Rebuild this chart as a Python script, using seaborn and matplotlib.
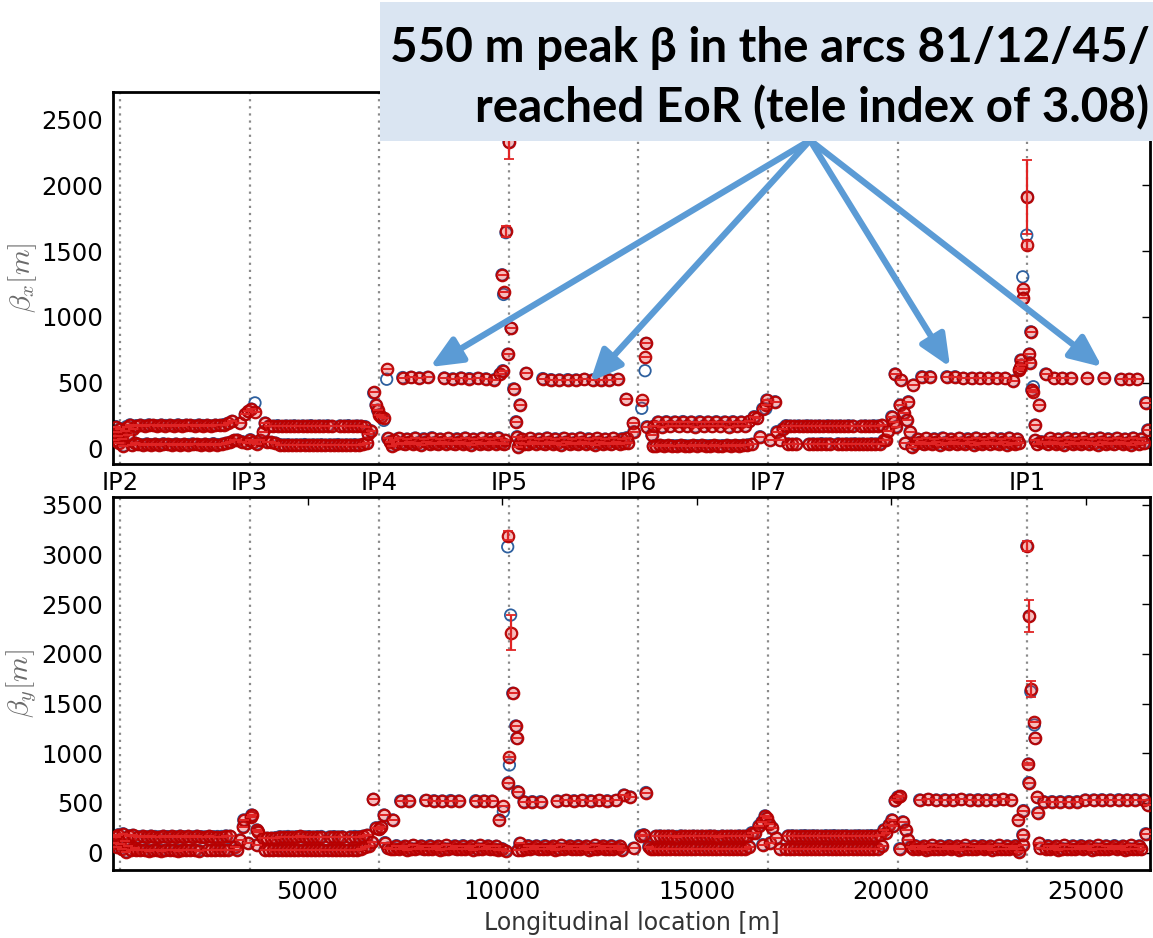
import numpy as np
import pandas as pd
import seaborn as sns
import matplotlib.pyplot as plt
from matplotlib.patches import Rectangle

nan = np.nan

# Interaction points along the ring [m]
ip_names = ["IP2", "IP3", "IP4", "IP5", "IP6", "IP7", "IP8", "IP1"]
ip_s = [180, 3512, 6844, 10176, 13508, 16840, 20172, 23504]

# ---------------- Arc BPMs (same monitors for both planes) ----------------
arc23_s = [600, 653, 707, 760, 814, 867, 921, 974, 1028, 1081, 1135, 1188, 1242, 1295, 1349, 1402,
           1456, 1509, 1563, 1616, 1670, 1723, 1777, 1830, 1884, 1937, 1991, 2044, 2098, 2151, 2205,
           2258, 2312, 2365, 2419, 2472, 2526, 2579, 2633, 2686, 2740, 2793, 2847, 2900, 2954, 3007]
arc23_bx = [172, 30, 176, 26, 170, 33, 178, 28, 174, 31, 171, 25, 177, 34, 173, 29, 175, 27, 170, 32,
            178, 26, 172, 30, 176, 28, 174, 33, 171, 29, 177, 26, 173, 31, 175, 27, 170, 35, 176, 28,
            174, 30, 180, 38, 190, 45]
arc23_by = [25, 160, 22, 165, 28, 158, 20, 166, 24, 162, 27, 159, 21, 165, 26, 161, 23, 164, 25, 158,
            20, 166, 27, 160, 22, 163, 24, 159, 26, 165, 21, 161, nan, 158, 23, 164, 25, 160, 22, 162,
            27, 162, 24, 168, 30, 165]

arc34_s = [3910, 3963, 4017, 4070, 4124, 4177, 4231, 4284, 4338, 4391, 4445, 4498, 4552, 4605, 4659,
           4712, 4766, 4819, 4873, 4926, 4980, 5033, 5087, 5140, 5194, 5247, 5301, 5354, 5408, 5461,
           5515, 5568, 5622, 5675, 5729, 5782, 5836, 5889, 5943, 5996, 6050, 6103, 6157, 6210, 6264,
           6317, 6371, 6424, 6478, 6531]
arc34_bx = [192, 50, 170, 45, 168, 40, 172, 28, 166, 25, 170, 27, 168, 24, 171, 26, 167, 25, 170, 28,
            168, 24, 172, 26, 166, 25, 170, 27, 168, 24, 171, 26, 167, 25, nan, 28, 170, 24, 168, 26,
            172, 25, 166, 27, 170, 24, 168, 30, 165, 40]
arc34_by = [27, 145, 25, 145, 22, 150, 24, 160, 26, 158, 23, 162, 25, 157, 22, 160, 24, 163, 26, 158,
            23, 161, 25, 157, 22, 160, 24, 162, 26, nan, 23, 158, 25, 161, 22, 157, 24, 160, 26, nan,
            23, 158, 25, 162, 22, 160, 35, 165, 55, 175]

arc45_s = [7233, 7286, 7340, 7393, 7447, 7500, 7554, 7607, 7661, 7714, 7768, 7821, 7875, 7928, 7982,
           8035, 8089, 8142, 8196, 8249, 8303, 8356, 8410, 8463, 8517, 8570, 8624, 8677, 8731, 8784,
           8838, 8891, 8945, 8998, 9052, 9105, 9159, 9212, 9266, 9319, 9373, 9426, 9480, 9533, 9587,
           9640, 9694, 9747, 9801, 9854, 9908, 9961]
arc45_bx = [60, 35, 75, 40, 538, 30, 70, 45, 540, 35, 78, 40, 535, 28, 72, 48, 540, 33, 80, 42,
            nan, 30, 70, 45, 535, 35, 75, 40, 528, 30, 72, 48, 535, 35, 78, 42, 530, 28, 70, 45,
            532, 33, 76, 40, 528, 30, 72, 46, 522, 35, 80, 42]
arc45_by = [40, 70, 35, 520, 45, 65, 30, 522, 40, 72, 35, nan, 42, 68, 33, 525, 38, 70, 36, 522,
            44, 66, 30, 520, 40, 72, 35, 524, 42, 68, 32, 520, 38, 70, 36, nan, 44, 66, 30, 522,
            40, 72, 35, 520, 42, 68, 33, 518, 38, 65, 30, nan]

arc56_s = [10404, 10457, 10511, 10564, 10618, 10671, 10725, 10778, 10832, 10885, 10939, 10992, 11046,
           11099, 11153, 11206, 11260, 11313, 11367, 11420, 11474, 11527, 11581, 11634, 11688, 11741,
           11795, 11848, 11902, 11955, 12009, 12062, 12116, 12169, 12223, 12276, 12330, 12383, 12437,
           12490, 12544, 12597, 12651, 12704, 12758, 12811, 12865, 12918, 12972, 13025, 13079, 13132]
arc56_bx = [nan, 40, 70, 35, 570, 30, 75, 45, nan, 35, 70, 40, 530, 30, 78, 45, 522, 35, 72, 40,
            520, 28, 76, 46, 522, 33, 70, 42, 520, 30, 78, 45, 524, 35, 72, 40, 520, 28, 75, 46,
            522, 33, 70, 42, 520, 30, 76, 45, 524, 35, 72, 40]
arc56_by = [24, 94, 30, 513, 40, 70, 35, 513, 42, 68, 33, 513, 38, 70, 36, nan, 44, 66, 30, 520,
            40, 72, 35, 525, 42, 68, 33, 522, 38, 70, 36, 525, 44, 66, 30, 522, 40, 72, 35, 525,
            42, 68, 33, 522, 38, 70, 36, 525, 44, 66, 30, 580]

arc67_s = [13900, 13953, 14007, 14060, 14114, 14167, 14221, 14274, 14328, 14381, 14435, 14488, 14542,
           14595, 14649, 14702, 14756, 14809, 14863, 14916, 14970, 15023, 15077, 15130, 15184, 15237,
           15291, 15344, 15398, 15451, 15505, 15558, 15612, 15665, 15719, 15772, 15826, 15879, 15933,
           15986, 16040, 16093, 16147, 16200, 16254, 16307, 16361, 16414]
arc67_bx = [168, 20, 200, 22, 165, 18, 202, 21, 168, 20, 200, 19, 166, 22, 203, 20, 168, 18, 200, 21,
            165, 20, 202, 22, 168, 19, 200, 20, 166, 21, 202, 18, 168, 20, 200, 22, 165, 19, 202, 21,
            168, 20, 200, 22, 170, 25, 205, 30]
arc67_by = [35, 165, 32, 168, 38, 163, 34, 167, 36, 165, 33, 162, 37, 168, 35, 165, 32, 163, 38, 167,
            34, 164, 36, 166, 33, 163, 37, 168, 35, 165, 32, 162, 38, 167, 34, 164, 36, 166, 33, 163,
            37, 168, 35, 165, 40, 170, 60, 200]

arc78_s = [17300, 17353, 17407, 17460, 17514, 17567, 17621, 17674, 17728, 17781, 17835, 17888, 17942,
           17995, 18049, 18102, 18156, 18209, 18263, 18316, 18370, 18423, 18477, 18530, 18584, 18637,
           18691, 18744, 18798, 18851, 18905, 18958, 19012, 19065, 19119, 19172, 19226, 19279, 19333,
           19386, 19440, 19493, 19547, 19600, 19654, 19707, 19761, 19814]
arc78_bx = [172, 33, 169, 30, 168, 32, 170, nan, 167, nan, 171, 31, 169, 33, 168, 30, 170, 35, 167, 32,
            171, 33, 169, nan, 168, 34, 170, 30, 167, 33, 171, 32, 169, 34, nan, 31, 168, 33, 170, 30,
            167, 34, 171, 32, 169, 35, 175, 60]
arc78_by = [35, 168, 33, 170, 37, 166, 34, 169, 36, 171, 32, 167, 35, 170, 38, 168, 33, 166, 36, 170,
            34, 168, 37, 171, 32, 167, 35, 169, 33, 170, 36, 166, 34, 168, 37, 170, 33, 167, 35, 169,
            32, 171, 36, 168, 40, 175, 70, 230]

arc81_s = [20574, 20627, 20681, 20734, 20788, 20841, 20895, 20948, 21002, 21055, 21109, 21162, 21216,
           21269, 21323, 21376, 21430, 21483, 21537, 21590, 21644, 21697, 21751, 21804, 21858, 21911,
           21965, 22018, 22072, 22125, 22179, 22232, 22286, 22339, 22393, 22446, 22500, 22553, 22607,
           22660, 22714, 22767, 22821, 22874, 22928, 22981, 23035, 23088, 23142, 23195, 23249]
arc81_bx = [481, 35, 70, 45, 544, 30, 75, 40, 544, 35, 72, 46, nan, 28, 78, 42, 544, 33, 70, 45,
            544, 30, 76, 40, 532, 35, 72, 46, 532, 28, 78, 42, 532, 33, 70, 45, 532, 30, 76, 40,
            532, 35, 72, 46, 532, 28, 78, 42, 513, 33, 70]
arc81_by = [40, 70, 35, 530, 44, 66, 30, 535, 40, 72, 35, 530, 38, 68, 33, 532, 42, 70, 36, 530,
            44, 66, 30, 535, 40, 72, 35, 530, 38, 68, 33, 532, 42, 70, 36, 530, 44, 66, 30, 532,
            40, 72, 35, 535, 38, 68, 33, 530, 42, 70, 36]

arc12_s = [23922, 23976, 24029, 24083, 24136, 24190, 24243, 24297, 24350, 24404, 24457, 24511, 24564,
           24618, 24671, 24725, 24778, 24832, 24885, 24939, 24992, 25046, 25099, 25153, 25206, 25260,
           25313, 25367, 25420, 25474, 25527, 25581, 25634, 25688, 25741, 25795, 25848, 25902, 25955,
           26009, 26062, 26116, 26169, 26223, 26276, 26330, 26383, 26437, 26490, 26544, 26597]
arc12_bx = [45, 565, 30, 75, 45, 532, 35, 70, 40, 532, 28, 78, 46, 532, 33, 72, 42, nan, 30, 76, 45,
            532, 35, 70, 40, nan, 28, 78, 46, 532, 33, 72, 42, nan, 30, 76, 45, 524, 35, 70, 40,
            524, 28, 78, 46, 524, 33, 72, 42, 347, 139]
arc12_by = [513, 40, 70, 35, 513, 44, 66, 30, 513, 40, 72, 35, 513, 38, 68, 33, 513, 42, 70, 36, 530,
            44, 66, 30, 530, 40, 72, 35, 532, 38, 68, 33, 530, 42, 70, 36, 532, 44, 66, 30, 530,
            40, 72, 35, 532, 38, 68, 33, 530, 190, 480]

# ---------------- Insertion-region BPMs ----------------
irx_s = [30, 70, 100, 130, 160, 190, 230, 270, 310, 350, 390, 437, 480, 520, 560,
         3060, 3120, 3200, 3265, 3320, 3400, 3440, 3480, 3530, 3560, 3610, 3650, 3700, 3780, 3865,
         6560, 6620, 6700, 6760, 6800, 6850, 6900, 6960, 7035, 7060, 7120, 7180,
         9949, 10000, 10018, 10040, 10050, 10080, 10100, 10150, 10180, 10230, 10300, 10360, 10385,
         10420, 10463,
         13188, 13200, 13247, 13376, 13390, 13591, 13676, 13702, 13720, 13848, 13890,
         16480, 16560, 16632, 16700, 16780, 16804, 16890, 17018, 17061, 17150, 17220,
         19870, 19920, 20017, 20080, 20103, 20130, 20230, 20249, 20334, 20360, 20403, 20445, 20488,
         20532,
         23298, 23300, 23320, 23334, 23350, 23385, 23400, 23488, 23505, 23555, 23565, 23591, 23617,
         23658, 23700, 23702, 23760, 23813, 23850]
irx_v = [60, 165, 120, 90, 40, 150, 70, 20, 130, 165, 100, 178, 25, 150, 40,
         205, 60, 62, 192, 50, 258, 40, 280, 65, 298, 45, 276, 35, 60, 126,
         110, 135, 430, 330, 290, 255, 240, 230, 600, 75, 50, 20,
         565, 1320, 590, 1190, 30, 60, 1650, 716, 2330, 914, 452, 202, 88,
         12, 330,
         372, 80, 40, 190, 126, 367, 696, 798, 164, 101, 17,
         240, 228, 88, 300, 330, 367, 63, 354, 126, 60, 150,
         60, 130, 240, 200, 565, 165, 329, 519, 270, 38, 215, 354, 126,
         12,
         595, 40, 608, 671, 633, 1208, 1140, 1545, 1912, 717, 651, 886, 443,
         430, 60, 177, 30, 329, 50]

iry_s = [30, 70, 100, 140, 180, 220, 260, 300, 340, 380, 420, 460, 510, 555,
         3130, 3200, 3265, 3350, 3360, 3479, 3555, 3565, 3693, 3700, 3736, 3865,
         6580, 6650, 6692, 6760, 6850, 6900, 6967, 6992, 7060, 7150, 7190,
         9931, 10000, 10034, 10090, 10146, 10160, 10190, 10221, 10275, 10352, 10378, 10403,
         13300, 13380, 13560, 13640, 13700, 13770, 13840,
         16500, 16600, 16680, 16700, 16760, 16800, 16870, 16900, 16950, 17050, 17150,
         19880, 19950, 20020, 20060, 20103, 20170, 20220, 20240, 20300, 20380, 20440, 20500,
         23273, 23290, 23380, 23385, 23401, 23488, 23530, 23540, 23555, 23591, 23684, 23700,
         23761, 23770, 23813, 23830]
iry_v = [100, 160, 60, 180, 90, 40, 190, 120, 10, 70, 170, 30, 175, 45,
         60, 30, 128, 262, 329, 95, 359, 379, 77, 228, 211, 145,
         70, 102, 537, 250, 235, 260, 379, 101, 45, 40, 329,
         329, 40, 470, 20, 3189, 704, 966, 2213, 1604, 1275, 1151, 614,
         560, 45, 170, 180, 605, 60, 40,
         200, 270, 310, 80, 370, 350, 290, 100, 250, 150, 40,
         200, 280, 330, 270, 530, 560, 40, 565, 310, 230, 130, 60,
         329, 10, 77, 178, 423, 3085, 892, 704, 2381, 1644, 1318, 1151,
         557, 402, 94, 44]

# Model values where they sit visibly apart from the measurement
modx_s = [3650, 6700, 6960, 7035, 10040, 10100, 13591, 13676, 16780, 23385, 23488, 23658]
modx_v = [345, 420, 212, 525, 1170, 1640, 304, 590, 300, 1304, 1621, 468]
mody_s = [10034, 10146, 10190, 10221, 20103, 23591, 23684]
mody_v = [412, 3078, 882, 2391, 520, 1620, 1285]

# Measurement uncertainties that exceed the marker size
errx_s = [10100, 10180, 23488, 23505]
errx_v = [40, 130, 30, 280]
erry_s = [10146, 10221, 23488, 23530, 23555, 23591]
erry_v = [45, 175, 50, 15, 160, 80]


def assemble(arcs_s, arcs_v, ir_s, ir_v, mod_s, mod_v, err_s, err_v):
    s = sum(arcs_s, []) + ir_s
    v = sum(arcs_v, []) + ir_v
    meas = pd.DataFrame({"s": s, "beta": v}).dropna().sort_values("s")
    errs = dict(zip(err_s, err_v))
    meas["err"] = [errs.get(k, 0.0) for k in meas["s"]]
    model_map = dict(zip(meas["s"], meas["beta"]))
    model_map.update(dict(zip(mod_s, mod_v)))
    model = pd.DataFrame({"s": list(model_map.keys()), "beta": list(model_map.values())})
    return meas, model


arcs_s = [arc23_s, arc34_s, arc45_s, arc56_s, arc67_s, arc78_s, arc81_s, arc12_s]
meas_x, model_x = assemble(arcs_s,
                           [arc23_bx, arc34_bx, arc45_bx, arc56_bx, arc67_bx, arc78_bx, arc81_bx, arc12_bx],
                           irx_s, irx_v, modx_s, modx_v, errx_s, errx_v)
meas_y, model_y = assemble(arcs_s,
                           [arc23_by, arc34_by, arc45_by, arc56_by, arc67_by, arc78_by, arc81_by, arc12_by],
                           iry_s, iry_v, mody_s, mody_v, erry_s, erry_v)

# ---------------- Style ----------------
sns.set_theme(style="white")
plt.rcParams["font.family"] = ["DejaVu Sans"]
plt.rcParams["mathtext.fontset"] = "cm"
plt.rcParams["xtick.direction"] = "in"
plt.rcParams["ytick.direction"] = "in"

fig = plt.figure(figsize=(11.53, 9.38), dpi=100)
ax1 = fig.add_axes([0.098, 0.5053, 0.8995, 0.3966])
ax2 = fig.add_axes([0.098, 0.0725, 0.8995, 0.3977])

RED_FACE = (0.90, 0.15, 0.15, 0.30)
RED_EDGE = (0.72, 0.0, 0.0, 0.95)
BLUE_EDGE = "#2d5f9e"
TICK_SIZE = 17.5


def draw_plane(ax, meas, model):
    for ip in ip_s:
        ax.axvline(ip, color="#8a8a8a", ls=(0, (1, 2.2)), lw=1.6, zorder=1)
    sns.scatterplot(data=model, x="s", y="beta", ax=ax, marker="o", s=68,
                    legend=False, zorder=2)
    coll = ax.collections[-1]
    coll.set_facecolor("none")
    coll.set_edgecolor(BLUE_EDGE)
    coll.set_linewidth(1.3)
    sns.scatterplot(data=meas, x="s", y="beta", ax=ax, marker="o", s=68,
                    legend=False, zorder=3)
    coll = ax.collections[-1]
    coll.set_facecolor(RED_FACE)
    coll.set_edgecolor(RED_EDGE)
    coll.set_linewidth(1.6)
    ax.errorbar(meas["s"], meas["beta"], yerr=meas["err"], fmt="none",
                ecolor="#e02424", elinewidth=1.6, capsize=3.4, capthick=1.3, zorder=4)
    ax.set_xlim(0, 26659)
    for sp in ax.spines.values():
        sp.set_linewidth(2.0)
        sp.set_color("black")
    ax.tick_params(axis="both", which="major", labelsize=TICK_SIZE, top=True, right=True,
                   length=6, width=1.0, color="black", labelcolor="black")
    ax.set_xlabel("")


draw_plane(ax1, meas_x, model_x)
draw_plane(ax2, meas_y, model_y)

ax1.set_ylim(-120, 2710)
ax1.set_yticks([0, 500, 1000, 1500, 2000, 2500])
ax1.set_xticks(ip_s)
ax1.set_xticklabels(ip_names)
ax1.tick_params(axis="x", length=0, pad=5)
ax1.tick_params(axis="y", pad=7)
ax1.set_ylabel(r"$\beta_x [m]$", fontsize=21, color="#6a6a6a")
ax1.yaxis.set_label_coords(-0.071, 0.5)

ax2.set_ylim(-175, 3580)
ax2.set_yticks([0, 500, 1000, 1500, 2000, 2500, 3000, 3500])
ax2.set_xticks([5000, 10000, 15000, 20000, 25000])
ax2.tick_params(axis="x", pad=7)
ax2.tick_params(axis="y", pad=7)
ax2.set_ylabel(r"$\beta_y [m]$", fontsize=21, color="#6a6a6a")
ax2.yaxis.set_label_coords(-0.071, 0.5)
ax2.set_xlabel("Longitudinal location [m]", fontsize=17, color="#333333", labelpad=5)

# ---------------- Call-out box with arrows ----------------
box = Rectangle((0.3296, 0.8497), 0.6704, 0.1482, transform=fig.transFigure,
                facecolor="#dae5f2", edgecolor="none", zorder=5)
fig.add_artist(box)
fig.text(0.997, 0.934, "550 m peak \u03b2 in the arcs 81/12/45/", fontsize=34.3,
         family="Lato", weight="bold", color="black", ha="right", va="baseline", zorder=6)
fig.text(0.997, 0.870, "reached EoR (tele index of 3.08)", fontsize=34.3,
         family="Lato", weight="bold", color="black", ha="right", va="baseline", zorder=6)

arrow_origin = (17918, 2343)
arrow_tips = [(8149, 618), (12262, 505), (21517, 618), (25424, 618)]
for tip in arrow_tips:
    ax1.annotate("", xy=tip, xytext=arrow_origin, xycoords="data", textcoords="data",
                 annotation_clip=False, zorder=7,
                 arrowprops=dict(arrowstyle="-|>,head_length=0.95,head_width=0.42",
                                 color="#5b9bd5", lw=4.5, shrinkA=0, shrinkB=0,
                                 mutation_scale=20))

fig.savefig("out.png", dpi=100)
